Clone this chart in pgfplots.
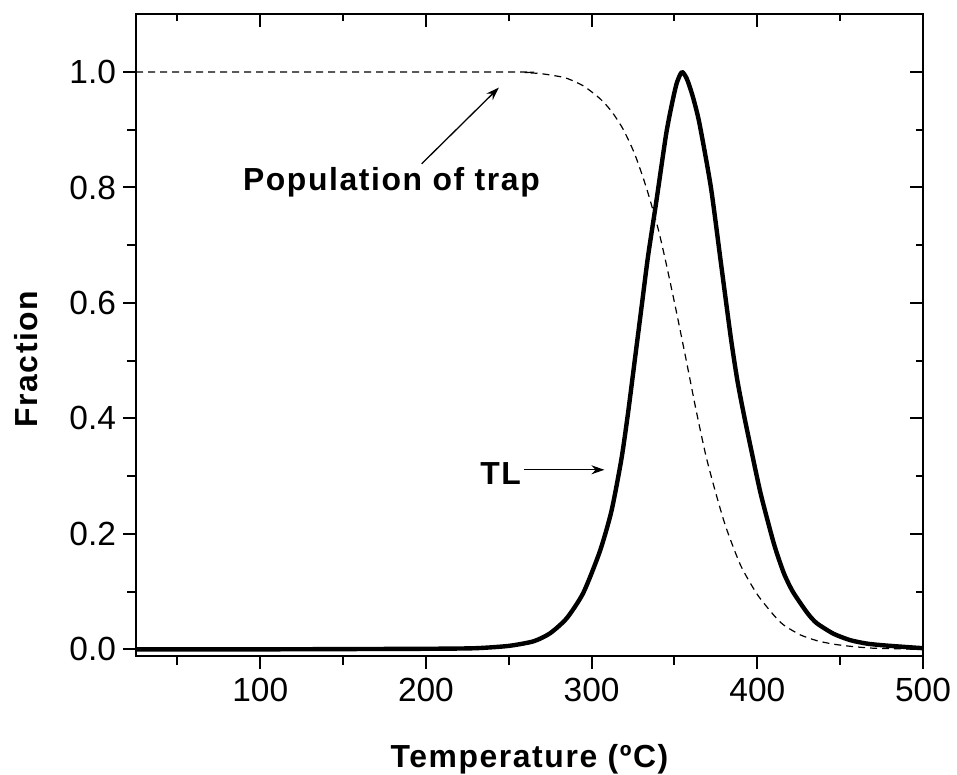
\documentclass[border=0pt]{standalone}
\usepackage{fontspec}
\setmainfont{Liberation Sans}
\newfontfamily\labfont[LetterSpace=5]{Liberation Sans}
\usepackage{pgfplots}
\pgfplotsset{compat=1.18}
\usetikzlibrary{arrows.meta}
\begin{document}
\begin{tikzpicture}
\pgfplotsset{
  common/.style={
    scale only axis, width=393.5bp, height=320.7bp,
    xmin=25, xmax=500, ymin=-0.011, ymax=1.1,
    xtick={100,200,300,400,500}, minor xtick={50,150,250,350,450},
    ytick={0,0.2,0.4,0.6,0.8,1.0}, minor ytick={0.1,0.3,0.5,0.7,0.9},
    every tick/.style={black, line width=1bp},
    axis line style={line width=1bp},
  }
}
\begin{axis}[common, name=main,
  xtick pos=bottom, ytick pos=left, tick align=outside,
  major tick length=6.5bp, minor tick length=4.5bp,
  yticklabel style={/pgf/number format/.cd, fixed, fixed zerofill, precision=1, assume math mode=true},
  xticklabel style={/pgf/number format/assume math mode=true, yshift=-1bp},
  tick label style={font=\fontsize{16.8}{19}\selectfont},
  xlabel={Temperature (ºC)},
  ylabel={Fraction},
  xlabel style={at={(rel axis cs:0.5,0)}, anchor=base, yshift=-55.65bp, font=\labfont\bfseries\fontsize{16}{19}\selectfont, inner sep=0pt},
  ylabel style={at={(rel axis cs:-0.139,0.4626)}, anchor=center, font=\labfont\bfseries\fontsize{16}{19}\selectfont, inner sep=0pt},
]
\addplot[black, line width=2.2bp, line join=round, smooth, tension=0.4] coordinates {
(25,0.000) (100,0.000) (200,0.001) (230,0.002) (250,0.006) (265,0.014)
(275,0.028) (285,0.054) (295,0.098) (305,0.170) (312,0.240) (318,0.330)
(322,0.410) (326,0.500) (330,0.590) (334,0.680) (339,0.775) (345,0.893)
(349,0.952) (351.5,0.982) (354.5,1.000) (357.5,0.988) (361,0.958) (365,0.912)
(372,0.800) (378,0.670) (384,0.540) (388,0.465) (392,0.405) (396,0.350)
(402,0.270) (410,0.183) (416,0.132) (421,0.102) (426,0.080) (431,0.060)
(436,0.045) (446,0.027) (456,0.016) (466,0.010) (476,0.007) (490,0.004)
(500,0.002)
};
\addplot[black, line width=0.6bp, dash pattern=on 3.5bp off 2.5bp, smooth, tension=0.4] coordinates {
(25,1.0) (250,1.0) (260,0.999) (270,0.997) (284,0.990) (295,0.976)
(305,0.954) (312,0.932) (319,0.901) (326,0.858) (333,0.800) (340,0.730)
(345,0.668) (351,0.587) (357,0.502) (363,0.415) (369,0.335) (375,0.270)
(381,0.212) (390,0.145) (400,0.095) (410,0.059) (416,0.042) (426,0.025)
(436,0.015) (446,0.009) (457,0.005) (470,0.002) (485,0.001) (500,0.0)
};
\node[anchor=base west, inner sep=0pt, font=\labfont\bfseries\fontsize{16}{19}\selectfont] at (axis cs:89.4,0.795) {Population of trap};
\draw[line width=0.65bp, -{Stealth[length=6.5bp,width=4.5bp]}] (axis cs:197.4,0.841) -- (axis cs:244,0.973);
\node[anchor=base west, inner sep=0pt, font=\labfont\bfseries\fontsize{16}{19}\selectfont] at (axis cs:232.6,0.286) {TL};
\draw[line width=0.65bp, -{Stealth[length=6.5bp,width=4.5bp]}] (axis cs:259.2,0.311) -- (axis cs:307.7,0.311);
\end{axis}
\begin{axis}[common,
  xtick pos=top, ytick pos=right, tick align=inside,
  major tick length=6.5bp, minor tick length=3.5bp,
  xticklabels={}, yticklabels={},
]
\end{axis}
\pgfresetboundingbox
\path[use as bounding box] ([xshift=-68bp,yshift=-59.65bp]main.south west) rectangle ([xshift=17bp,yshift=7.15bp]main.north east);
\end{tikzpicture}
\end{document}
